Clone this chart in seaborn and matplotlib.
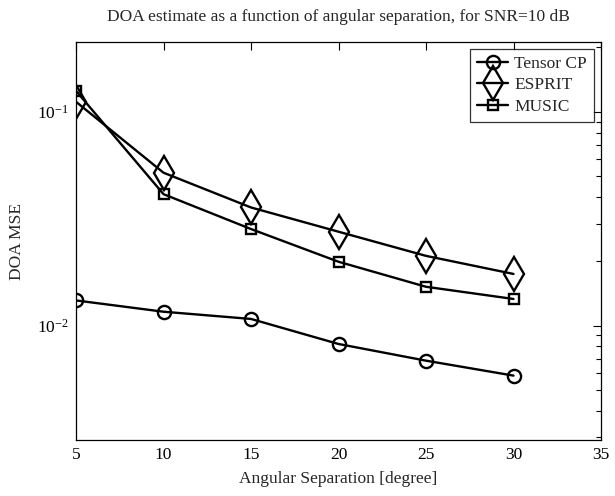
import matplotlib
matplotlib.use("Agg")
import matplotlib.pyplot as plt
import seaborn as sns
import pandas as pd
from matplotlib.ticker import LogLocator, NullFormatter

separation = [5, 10, 15, 20, 25, 30]
tensor_cp = [0.01312, 0.01162, 0.01075, 0.00821, 0.00686, 0.00584]
esprit = [0.1114, 0.0519, 0.0357, 0.0275, 0.0212, 0.01745]
music = [0.1253, 0.0412, 0.0283, 0.0199, 0.0152, 0.01333]

series_names = ["Tensor CP", "ESPRIT", "MUSIC"]
series_values = [tensor_cp, esprit, music]

sns.set_theme(style="white")
plt.rcParams["font.family"] = ["Liberation Serif", "DejaVu Serif"]
plt.rcParams["mathtext.fontset"] = "stix"

fig = plt.figure(figsize=(6.15, 4.96), dpi=100)
ax = fig.add_axes([76 / 615, 56 / 496, (601 - 76) / 615, (440 - 42) / 496])

styles = {
    "Tensor CP": dict(marker="o", markersize=9.5),
    "ESPRIT": dict(marker="d", markersize=17),
    "MUSIC": dict(marker="s", markersize=6.5),
}

for name, vals in zip(series_names, series_values):
    df = pd.DataFrame({"x": separation, "y": vals})
    sns.lineplot(data=df, x="x", y="y", ax=ax, color="black", linewidth=1.7,
                 markerfacecolor="none", markeredgecolor="black",
                 markeredgewidth=1.7, label=name, **styles[name])

ax.set_yscale("log")
ax.set_xlim(5, 35)
ax.set_ylim(0.00292, 0.212)
ax.set_xticks([5, 10, 15, 20, 25, 30, 35])
ax.yaxis.set_major_locator(LogLocator(base=10, numticks=10))
ax.yaxis.set_minor_locator(LogLocator(base=10, subs=range(2, 10), numticks=20))
ax.yaxis.set_minor_formatter(NullFormatter())

ax.tick_params(axis="both", which="both", direction="in", top=True, right=True,
               labelsize=12.5, colors="black")
ax.tick_params(axis="x", which="major", length=6, width=0.8, pad=5)
ax.tick_params(axis="y", which="major", length=6, width=0.8, pad=5)
ax.tick_params(axis="y", which="minor", length=3.5, width=0.8)
ax.tick_params(axis="x", which="minor", bottom=False, top=False)

for sp in ax.spines.values():
    sp.set_color("black")
    sp.set_linewidth(0.9)

ax.set_xlabel("Angular Separation [degree]", fontsize=12.5, labelpad=6)
ax.set_ylabel("DOA MSE", fontsize=12.5, labelpad=9)
ax.set_title("DOA estimate as a function of angular separation, for SNR=10 dB",
             fontsize=12.5, pad=15)

leg = ax.legend(loc="upper right", frameon=True, fancybox=False, fontsize=12.5,
                handlelength=1.8, handletextpad=0.35, borderpad=0.4,
                labelspacing=0.3, borderaxespad=0.4)
leg.get_frame().set_edgecolor("black")
leg.get_frame().set_linewidth(0.9)

fig.savefig("out.png", dpi=100)
